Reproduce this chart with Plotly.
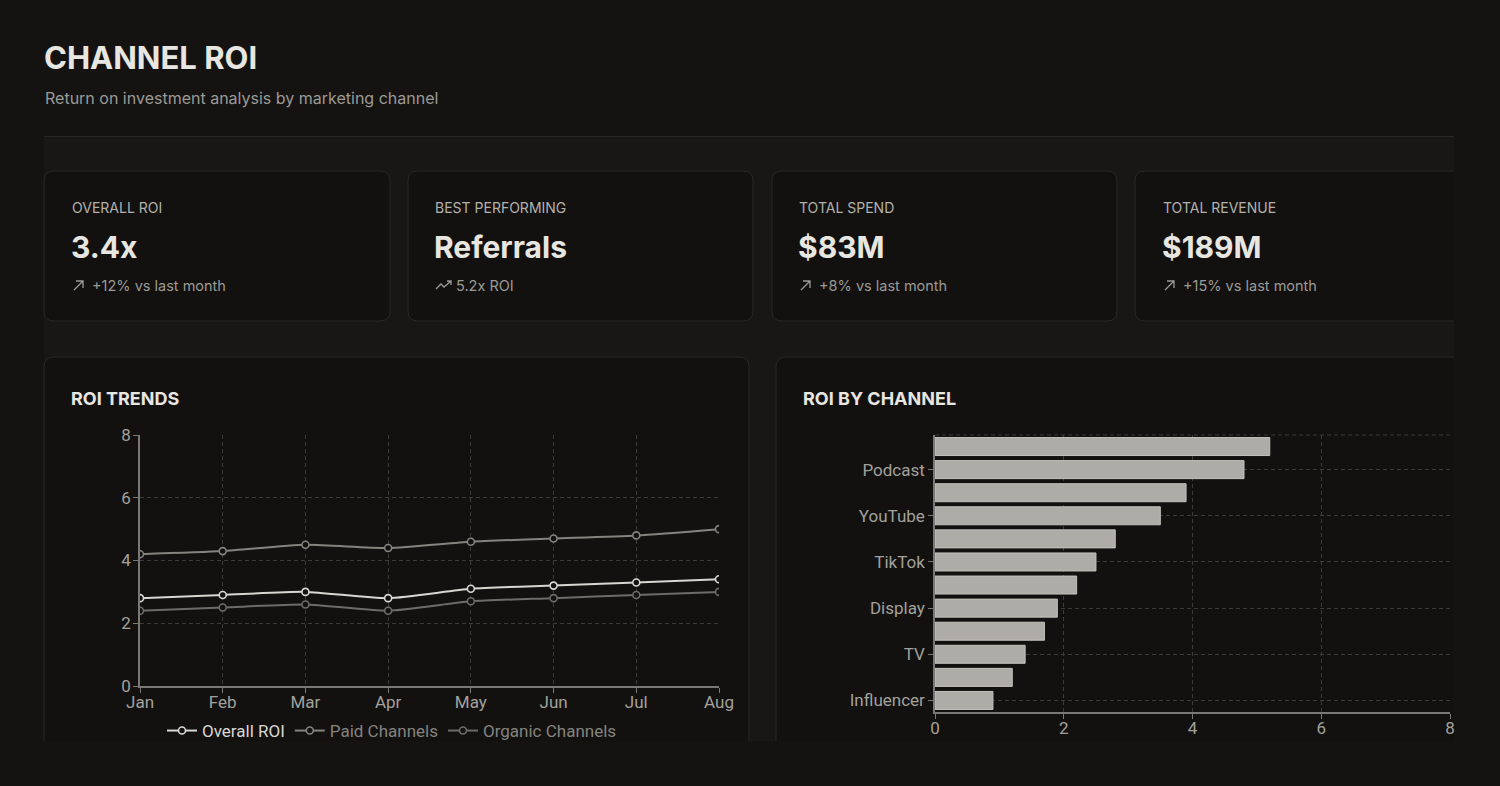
import plotly.graph_objects as go

W, H = 1500, 786

# ---------------- data ----------------
months = ["Jan", "Feb", "Mar", "Apr", "May", "Jun", "Jul", "Aug"]
overall_roi = [2.8, 2.9, 3.0, 2.8, 3.1, 3.2, 3.3, 3.4]
paid_roi = [4.2, 4.3, 4.5, 4.4, 4.6, 4.7, 4.8, 5.0]
organic_roi = [2.4, 2.5, 2.6, 2.4, 2.7, 2.8, 2.9, 3.0]

channels = ["Referrals", "Podcast", "Email", "YouTube", "SEO", "TikTok",
            "Social", "Display", "Search", "TV", "Affiliate", "Influencer"]
channel_roi = [5.2, 4.8, 3.9, 3.5, 2.8, 2.5, 2.2, 1.9, 1.7, 1.4, 1.2, 0.9]
channel_tick_labels = ["Podcast", "YouTube", "TikTok", "Display", "TV", "Influencer"]

line_ticks = [0, 2, 4, 6, 8]
bar_ticks = [0, 2, 4, 6, 8]

kpi_labels = ["OVERALL ROI", "BEST PERFORMING", "TOTAL SPEND", "TOTAL REVENUE"]
kpi_values = ["3.4x", "Referrals", "$83M", "$189M"]
kpi_notes = ["+12% vs last month", "5.2x ROI", "+8% vs last month", "+15% vs last month"]
kpi_icons = ["arrow", "trend", "arrow", "arrow"]

# ---------------- styles ----------------
BG = "#141312"
PANEL = "#181716"
CARD = "#121110"
BORDER = "#2a2826"
TEXT = "#e8e6e1"
MUTED = "#9c9a95"
AXIS = "#7a7874"
GRID = "#3c3b38"
TICK_FONT = dict(family="Roboto, Inter, sans-serif", size=17, color="#a3a19c")
SANS = "Inter, 'Noto Sans', sans-serif"


def px(x):
    return x / W


def py(y):
    return 1 - y / H


def box_path(x0, y0, x1, y1, r, skip_bottom=False, skip_right=False):
    rx, ry = r / W, r / H
    X0, X1, YT, YB = px(x0), px(x1), py(y0), py(y1)
    segs = []
    if skip_bottom:
        segs.append(f"M {X0},{YB} L {X0},{YT - ry} Q {X0},{YT} {X0 + rx},{YT}")
        if skip_right:
            segs.append(f"L {X1},{YT}")
        else:
            segs.append(f"L {X1 - rx},{YT} Q {X1},{YT} {X1},{YT - ry} L {X1},{YB}")
    elif skip_right:
        segs.append(f"M {X1},{YT} L {X0 + rx},{YT} Q {X0},{YT} {X0},{YT - ry} "
                    f"L {X0},{YB + ry} Q {X0},{YB} {X0 + rx},{YB} L {X1},{YB}")
    return " ".join(segs)


def fill_path(x0, y0, x1, y1, r, tl=True, tr=True, br=True, bl=True):
    rx, ry = r / W, r / H
    X0, X1, YT, YB = px(x0), px(x1), py(y0), py(y1)
    a = [rx if c else 0 for c in (tl, tr, br, bl)]
    b = [ry if c else 0 for c in (tl, tr, br, bl)]
    return (f"M {X0 + a[0]},{YT} L {X1 - a[1]},{YT} Q {X1},{YT} {X1},{YT - b[1]} "
            f"L {X1},{YB + b[2]} Q {X1},{YB} {X1 - a[2]},{YB} L {X0 + a[3]},{YB} "
            f"Q {X0},{YB} {X0},{YB + b[3]} L {X0},{YT - b[0]} Q {X0},{YT} {X0 + a[0]},{YT} Z")


shapes = []
# dashboard container (lighter band), clipped at right / bottom
shapes.append(dict(type="rect", xref="paper", yref="paper", x0=px(44), x1=px(1454),
                   y0=py(741), y1=py(136), fillcolor=PANEL, line=dict(width=0), layer="below"))
shapes.append(dict(type="line", xref="paper", yref="paper", x0=px(44), x1=px(1454),
                   y0=py(136.5), y1=py(136.5), line=dict(color=BORDER, width=1), layer="below"))

# KPI cards
card_x = [(44, 390), (408, 753), (772, 1117), (1135, 1454)]
for i, (a, b) in enumerate(card_x):
    last = i == 3
    shapes.append(dict(type="path", xref="paper", yref="paper",
                       path=fill_path(a, 171, b, 321, 10, tr=not last, br=not last),
                       fillcolor=CARD, line=dict(width=0), layer="below"))
    if not last:
        shapes.append(dict(type="path", xref="paper", yref="paper",
                           path=fill_path(a, 171, b, 321, 10), fillcolor="rgba(0,0,0,0)",
                           line=dict(color=BORDER, width=1), layer="below"))
    else:
        shapes.append(dict(type="path", xref="paper", yref="paper",
                           path=box_path(a, 171, b, 321, 10, skip_right=True),
                           fillcolor="rgba(0,0,0,0)", line=dict(color=BORDER, width=1), layer="below"))

# chart cards (clipped at bottom / right)
for (a, b, open_right) in [(44, 749, False), (776, 1454, True)]:
    shapes.append(dict(type="path", xref="paper", yref="paper",
                       path=fill_path(a, 357, b, 741, 10, tr=not open_right, br=False, bl=False),
                       fillcolor=CARD, line=dict(width=0), layer="below"))
    shapes.append(dict(type="path", xref="paper", yref="paper",
                       path=box_path(a, 357, b, 741, 10, skip_bottom=True, skip_right=open_right),
                       fillcolor="rgba(0,0,0,0)", line=dict(color=BORDER, width=1), layer="below"))

# top dashed border of bar plot area
shapes.append(dict(type="line", xref="x2 domain", yref="y2 domain", x0=0, x1=1, y0=1, y1=1,
                   line=dict(color=GRID, width=1, dash="4px,3px"), layer="below"))

# small icons in KPI notes
label_x = [71, 434, 798, 1162]
for i in range(4):
    tx, ty = label_x[i] + 2, 285
    if kpi_icons[i] == "trend":
        path = (f"M {px(tx)},{py(ty + 4)} L {px(tx + 5)},{py(ty - 1)} L {px(tx + 8)},{py(ty + 2)} "
                f"L {px(tx + 15)},{py(ty - 4)} M {px(tx + 11)},{py(ty - 4)} L {px(tx + 15)},{py(ty - 4)} "
                f"L {px(tx + 15)},{py(ty)}")
    else:
        path = (f"M {px(tx + 1)},{py(ty + 5)} L {px(tx + 10)},{py(ty - 4)} "
                f"M {px(tx + 3)},{py(ty - 4)} L {px(tx + 10)},{py(ty - 4)} L {px(tx + 10)},{py(ty + 3)}")
    shapes.append(dict(type="path", xref="paper", yref="paper", path=path,
                       fillcolor="rgba(0,0,0,0)", line=dict(color=MUTED, width=1.3)))

annotations = []


def text(x, y, s, size, color, bold=False, family=SANS):
    annotations.append(dict(xref="paper", yref="paper", x=px(x), y=py(y), text=(f"<b>{s}</b>" if bold else s),
                            showarrow=False, xanchor="left", yanchor="middle",
                            font=dict(family=family, size=size, color=color)))


text(42, 58, "CHANNEL ROI", 31, TEXT, bold=True)
text(43, 98, "Return on investment analysis by marketing channel", 16, MUTED)

for i in range(4):
    x = label_x[i]
    text(x - 1, 208, kpi_labels[i], 14, "#b3b1ac")
    text(x - 2, 247, kpi_values[i], 30, TEXT, bold=True)
    note_x = x + 19 if kpi_icons[i] == "arrow" else x + 20
    text(note_x, 285, kpi_notes[i], 14.5, MUTED)

text(69, 398, "ROI TRENDS", 18, TEXT, bold=True)
text(801, 398, "ROI BY CHANNEL", 18, TEXT, bold=True)

fig = go.Figure()

marker_common = dict(symbol="circle", size=7)
fig.add_trace(go.Scatter(x=months, y=overall_roi, name="Overall ROI", mode="lines+markers",
                         line=dict(color="#d9d7d2", width=2, shape="spline", smoothing=0.6),
                         marker=dict(color=CARD, line=dict(color="#d9d7d2", width=1.6), **marker_common),
                         xaxis="x", yaxis="y"))
fig.add_trace(go.Scatter(x=months, y=paid_roi, name="<span style='color:#85837e'>Paid Channels</span>",
                         mode="lines+markers",
                         line=dict(color="#85837e", width=2, shape="spline", smoothing=0.6),
                         marker=dict(color=CARD, line=dict(color="#85837e", width=1.6), **marker_common),
                         xaxis="x", yaxis="y"))
fig.add_trace(go.Scatter(x=months, y=organic_roi, name="<span style='color:#85837e'>Organic Channels</span>",
                         mode="lines+markers",
                         line=dict(color="#6e6c68", width=2, shape="spline", smoothing=0.6),
                         marker=dict(color=CARD, line=dict(color="#6e6c68", width=1.6), **marker_common),
                         xaxis="x", yaxis="y"))

fig.add_trace(go.Bar(x=channel_roi, y=channels, orientation="h", width=0.78,
                     marker=dict(color="#aeaca7", line=dict(color="#c4c2bd", width=1)),
                     showlegend=False, xaxis="x2", yaxis="y2"))

axis_common = dict(showline=True, linecolor=AXIS, linewidth=1.5, ticks="outside", ticklen=5,
                   tickcolor=AXIS, tickwidth=1, tickfont=TICK_FONT, zeroline=False, automargin=False,
                   showgrid=True, gridcolor=GRID, griddash="4px,3px", gridwidth=1)

fig.update_layout(
    template="none",
    autosize=False,
    width=W, height=H, margin=dict(l=0, r=0, t=0, b=0, pad=0),
    paper_bgcolor=BG, plot_bgcolor="rgba(0,0,0,0)",
    shapes=shapes, annotations=annotations,
    showlegend=True,
    legend=dict(orientation="h", x=px(392), xanchor="center", y=py(731), yanchor="middle",
                font=dict(family="Roboto, sans-serif", size=17, color="#d9d7d2"),
                bgcolor="rgba(0,0,0,0)", itemwidth=30, tracegroupgap=0),
    xaxis=dict(domain=[px(140), px(719)], anchor="y", type="category", range=[0, 7],
               categoryorder="array", categoryarray=months, ticklabelstandoff=-5, **axis_common),
    yaxis=dict(domain=[py(686), py(435)], anchor="x", range=[0, 8], tickvals=line_ticks,
               ticklabelstandoff=-1, **axis_common),
    xaxis2=dict(domain=[px(935), px(1450)], anchor="y2", range=[0, 8], tickvals=bar_ticks,
                ticklabelstandoff=-5, **axis_common),
    yaxis2=dict(domain=[py(712), py(435)], anchor="x2", type="category",
                categoryorder="array", categoryarray=channels, range=[11.5, -0.5],
                tickvals=channel_tick_labels, ticktext=channel_tick_labels, **axis_common),
    bargap=0.2,
    font=dict(family=SANS, color=TEXT),
)

fig.write_html("out.html", config={"displayModeBar": False},
               post_script="document.body.style.margin='0';document.body.style.overflow='hidden';")
